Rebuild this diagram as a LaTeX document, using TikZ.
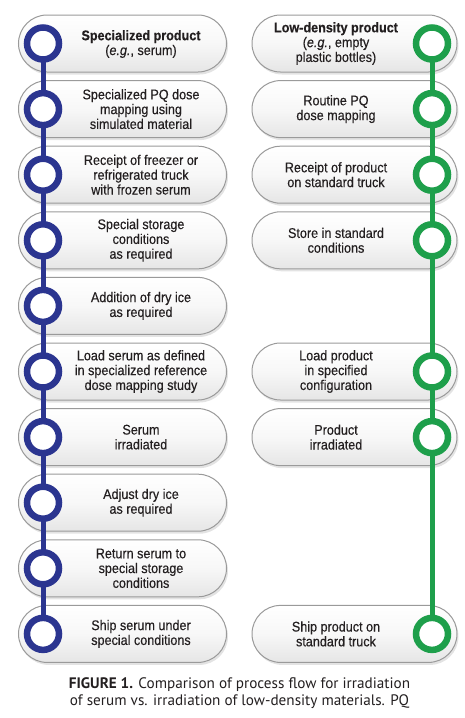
\documentclass[tikz,border=0pt]{standalone}
\usepackage{fontspec}
\setmainfont[FakeStretch=0.9, FakeBold=0.35]{Liberation Sans}
\newfontfamily\capfont{PT Sans}
\usetikzlibrary{shadows}
\definecolor{txt}{HTML}{231F20}
\definecolor{navy}{HTML}{2B3590}
\definecolor{grn}{HTML}{1E9F4B}
\definecolor{pillborder}{HTML}{9A9A9A}
\tikzset{
  pill/.style={rectangle, rounded corners=28.5pt, minimum width=208pt, minimum height=57pt,
    draw=pillborder, line width=1pt, top color=white, bottom color=black!10, middle color=white!97!black,
    drop shadow={opacity=0.22, shadow xshift=1.5pt, shadow yshift=-2.5pt}},
  lbl/.style={align=center, font=\fontsize{14}{14.8}\selectfont, text=txt, inner sep=0pt},
  ringL/.style={circle, draw=navy, line width=6.5pt, fill=white, minimum size=32pt, inner sep=0pt},
  ringR/.style={circle, draw=grn, line width=6.5pt, fill=white, minimum size=32pt, inner sep=0pt},
  railL/.style={draw=navy, line width=5pt},
  railR/.style={draw=grn, line width=5pt},
}
\begin{document}
\begin{tikzpicture}[x=1pt,y=-1pt]
\useasboundingbox (0,0) rectangle (464,718);
% row centres: 43.5 + 65.6 i
\foreach \i in {0,...,9}{
  \coordinate (cL\i) at (43, 43.5+65.6*\i);
  \coordinate (cR\i) at (432, 43.5+65.6*\i);
}
% left pills
\foreach \i in {0,...,9}{
  \node[pill] (pL\i) at (122.5, 43.5+65.6*\i) {};
}
% right pills
\foreach \i in {0,1,2,3,5,6,9}{
  \node[pill, minimum width=205pt] (pR\i) at (354.5, 43.5+65.6*\i) {};
}
% rails
\draw[railL] (cL0) -- (cL9);
\draw[railR] (cR0) -- (cR9);
% rings
\foreach \i in {0,...,9}{
  \node[ringL] (rL\i) at (cL\i) {};
}
\foreach \i in {0,1,2,3,5,6,9}{
  \node[ringR] (rR\i) at (cR\i) {};
}
% left labels
\node[lbl] (tL0) at (141, 44) {\textbf{Specialized product}\\(\textit{e.g.}, serum)};
\node[lbl] (tL1) at (141, 109.1) {Specialized PQ dose\\mapping using\\simulated material};
\node[lbl] (tL2) at (141, 174.7) {Receipt of freezer or\\refrigerated truck\\with frozen serum};
\node[lbl] (tL3) at (141, 240.3) {Special storage\\conditions\\as required};
\node[lbl] (tL4) at (141, 305.9) {Addition of dry ice\\as required};
\node[lbl] (tL5) at (141, 371.5) {Load serum as defined\\in specialized reference\\dose mapping study};
\node[lbl] (tL6) at (141, 437.1) {Serum\\irradiated};
\node[lbl] (tL7) at (141, 502.7) {Adjust dry ice\\as required};
\node[lbl] (tL8) at (141, 568.3) {Return serum to\\special storage\\conditions};
\node[lbl] (tL9) at (141, 633.9) {Ship serum under\\special conditions};
% right labels
\node[lbl] (tR0) at (336, 43.5) {\textbf{Low-density product}\\(\textit{e.g.}, empty\\plastic bottles)};
\node[lbl] (tR1) at (336, 109.1) {Routine PQ\\dose mapping};
\node[lbl] (tR2) at (336, 174.7) {Receipt of product\\on standard truck};
\node[lbl] (tR3) at (336, 240.3) {Store in standard\\conditions};
\node[lbl] (tR5) at (336, 371.5) {Load product\\in specified\\configuration};
\node[lbl] (tR6) at (336, 437.1) {Product\\irradiated};
\node[lbl] (tR9) at (336, 633.9) {Ship product on\\standard truck};
% caption
\node[align=center, font=\capfont\fontsize{15.2}{17}\selectfont, text=txt, inner sep=0pt] (cap) at (239.5, 693.5)
  {\textbf{FIGURE 1.} Comparison of process flow for irradiation\\of serum vs. irradiation of low-density materials. PQ};
\end{tikzpicture}
\end{document}
